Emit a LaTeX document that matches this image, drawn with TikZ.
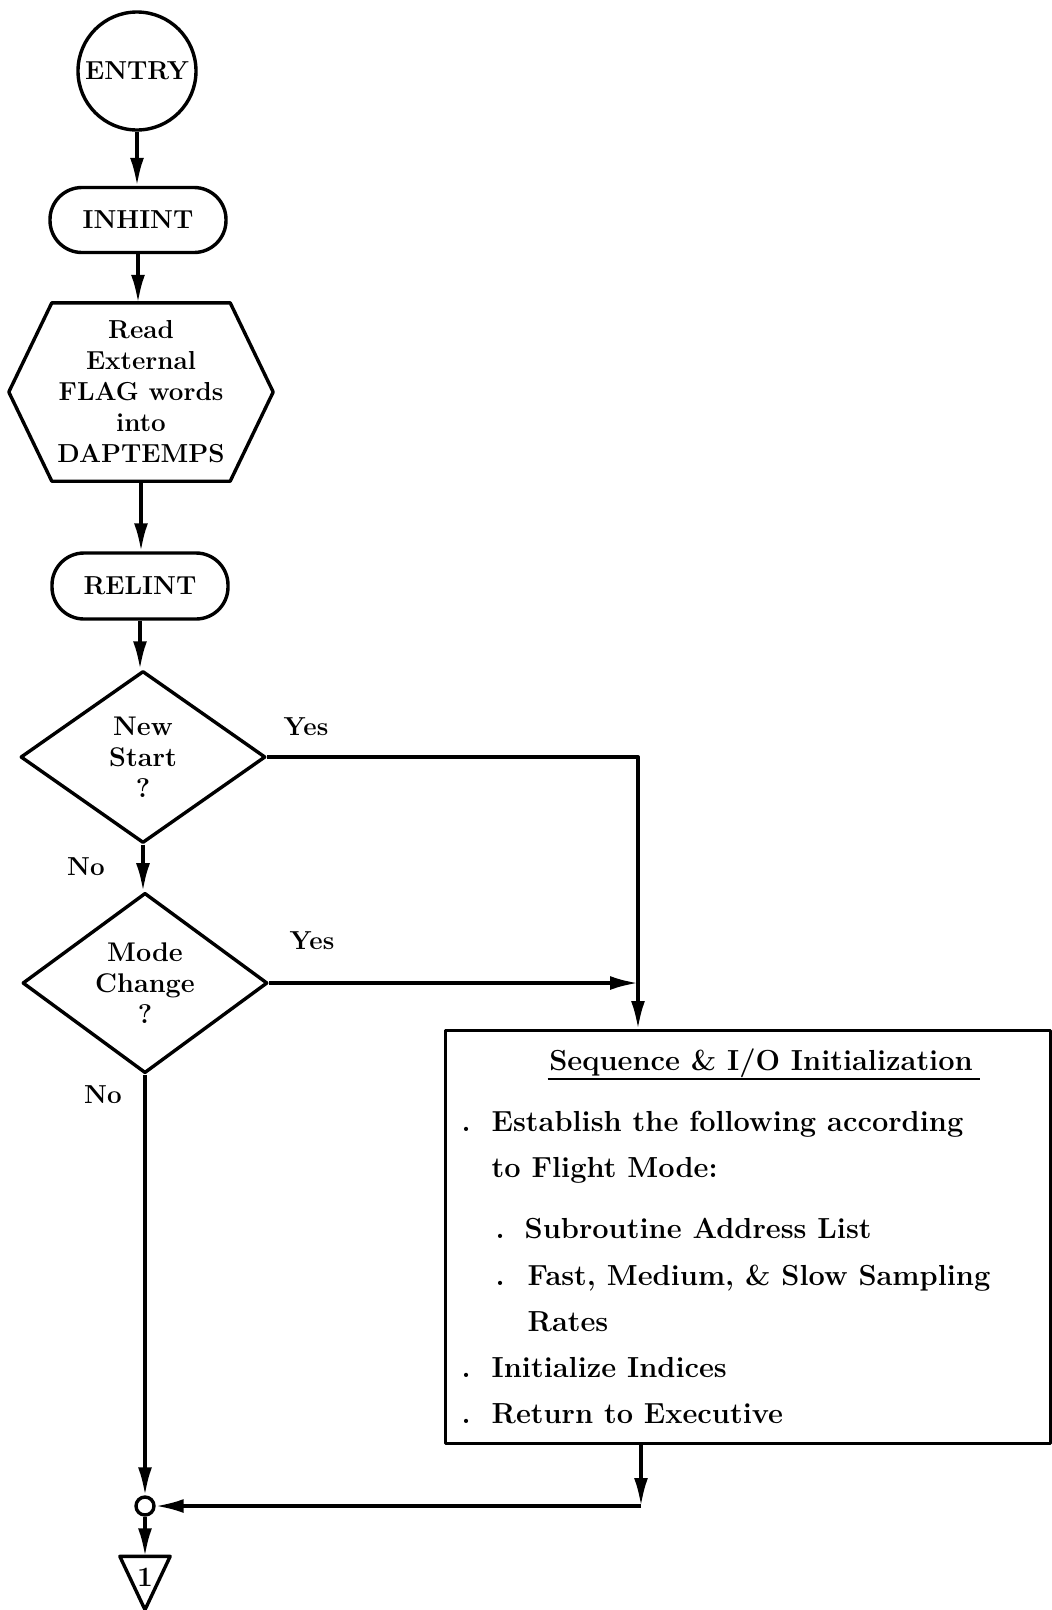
\documentclass[tikz,border=0pt]{standalone}
\usetikzlibrary{shapes.geometric,arrows.meta,calc}
\begin{document}
\begin{tikzpicture}[x=1pt,y=-1pt, line width=3.4pt, line join=round,
  every node/.style={font=\fontsize{26}{31}\selectfont\bfseries, inner sep=0pt},
  arr/.style={-{Latex[length=28pt,width=14pt]}},
  term/.style={draw, rounded corners=32pt, minimum width=176pt, minimum height=65pt},
  dec/.style={draw, diamond, align=center, minimum width=245pt, minimum height=172pt,
              font=\fontsize{27}{31}\selectfont\bfseries},
  lbl/.style={font=\fontsize{26}{31}\selectfont\bfseries},
  boxt/.style={anchor=base west, font=\fontsize{29}{35}\selectfont\bfseries}
]
\useasboundingbox (0,0) rectangle (1052,1610);

% main column
\node[draw, circle, minimum size=118pt] (entry) at (137,71) {ENTRY};
\node[term] (inhint) at (138,220) {INHINT};
\node[align=center, minimum width=261pt, minimum height=175pt] (hex) at (141,392)
  {Read\\External\\FLAG words\\into\\DAPTEMPS};
\draw ([xshift=43pt]hex.north west) -- ([xshift=-43pt]hex.north east) -- (hex.east)
  -- ([xshift=-43pt]hex.south east) -- ([xshift=43pt]hex.south west) -- (hex.west) -- cycle;
\node[term, minimum height=66pt] (relint) at (140,586) {RELINT};
\node[dec] (d1) at (143,757) {New\\Start\\?};
\node[dec] (d2) at (145,983) {Mode\\Change\\?};

% labels
\node[lbl] (yes1) at (306,727) {Yes};
\node[lbl] (no1) at (86,867) {No};
\node[lbl] (yes2) at (312,941) {Yes};
\node[lbl] (no2) at (103,1095) {No};

% process box
\node[draw, anchor=north west, minimum width=605pt, minimum height=413pt, line width=3pt] (box) at (444,1029) {};
\node[boxt, anchor=base] (title) at (761,1070) {Sequence \& I/O Initialization};
\coordinate (ul) at (0,1079);
\draw[line width=2.4pt] (title.west |- ul) -- ([xshift=6pt]title.east |- ul);
\node[boxt] (b1) at (460,1131) {.};
\node[boxt] (t1) at (490,1131) {Establish the following according};
\node[boxt] (t2) at (490,1177) {to Flight Mode:};
\node[boxt] (b3) at (494,1238) {.};
\node[boxt] (t3) at (523,1238) {Subroutine Address List};
\node[boxt] (b4) at (494,1285) {.};
\node[boxt] (t4) at (526,1285) {Fast, Medium, \& Slow Sampling};
\node[boxt] (t5) at (526,1331) {Rates};
\node[boxt] (b6) at (460,1377) {.};
\node[boxt] (t6) at (490,1377) {Initialize Indices};
\node[boxt] (b7) at (460,1423) {.};
\node[boxt] (t7) at (490,1423) {Return to Executive};

% connector end
\node[draw, circle, minimum size=18pt] (junc) at (145,1506) {};
\node[minimum width=47pt, minimum height=50pt] (tri) at (145,1583) {};
\draw (tri.north west) -- (tri.north east) -- (tri.south) -- cycle;
\node[font=\fontsize{28}{28}\selectfont\bfseries] (one) at (145,1577) {1};

% connectors
\coordinate (c1) at (638,757);
\coordinate (c3) at (641,1506);
\draw[arr] (entry.south) -- (entry.south |- inhint.north);
\draw[arr] (inhint.south) -- (inhint.south |- hex.north);
\draw[arr] (hex.south) -- (hex.south |- relint.north);
\draw[arr] (relint.south) -- (relint.south |- d1.north);
\draw[arr] (d1.south) -- (d1.south |- d2.north);
\draw[arr] (d2.south) -- (d2.south |- junc.north);
\draw[arr] (d1.east) -- (c1) -- (c1 |- box.north);
\draw[arr] (d2.east) -- (d2.east -| c1);
\draw[arr] (box.south -| c3) -- (c3);
\draw[arr] (c3) -- (junc.east);
\draw[arr] (junc.south) -- (junc.south |- tri.north);
\end{tikzpicture}
\end{document}
